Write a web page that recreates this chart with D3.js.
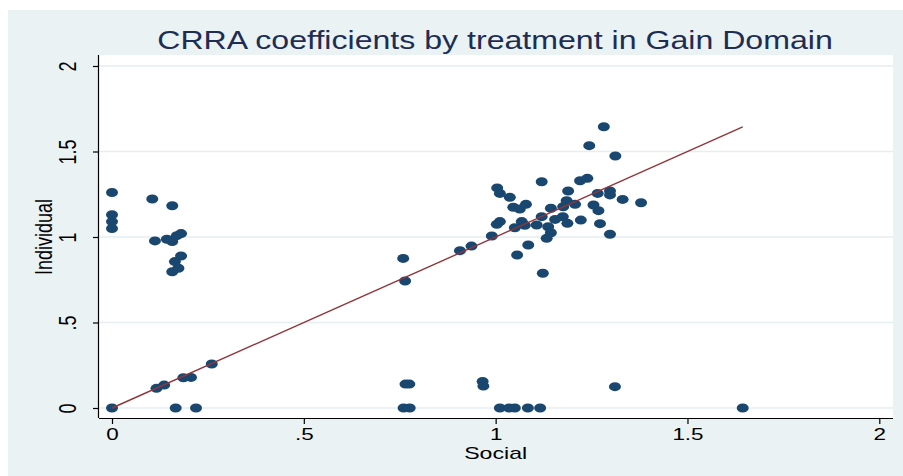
<!DOCTYPE html>
<html>
<head>
<meta charset="utf-8">
<script src="https://cdn.jsdelivr.net/npm/d3@7"></script>
<style>
  html, body { margin: 0; padding: 0; background: #ffffff; }
  svg { display: block; }
  text { font-family: "Liberation Sans", Arial, Helvetica, sans-serif; }
</style>
</head>
<body>
<svg id="chart" width="903" height="476"></svg>
<script>
// CRRA coefficients: social treatment (x) vs individual treatment (y)
const social = [
  0, 0, 0, 0, 0,
  0.105, 0.157, 0.112, 0.143, 0.157, 0.169, 0.18, 0.18, 0.164, 0.173, 0.157,
  0.116, 0.136, 0.186, 0.206, 0.26, 0.166, 0.219,
  0.759, 0.764, 0.765, 0.775, 0.76, 0.776, 0.966, 0.968,
  1.011, 1.035, 1.05, 1.084, 1.116, 1.311, 1.644,
  0.907, 0.937, 0.99, 1.004, 1.011, 1.037, 1.12, 1.011, 1.003,
  1.046, 1.063, 1.079, 1.068, 1.05, 1.076, 1.107, 1.12, 1.144,
  1.137, 1.144, 1.133, 1.155, 1.085, 1.056, 1.123,
  1.282, 1.244, 1.312, 1.22, 1.239, 1.189, 1.266, 1.298, 1.298, 1.331, 1.379,
  1.185, 1.207, 1.176, 1.255, 1.268, 1.175, 1.187, 1.222, 1.272, 1.298
];
const individual = [
  1.26, 1.13, 1.09, 1.05, 0,
  1.222, 1.183, 0.977, 0.987, 0.973, 1.008, 1.02, 0.889, 0.856, 0.817, 0.797,
  0.115, 0.134, 0.177, 0.179, 0.257, 0, 0,
  0.875, 0.743, 0.14, 0.14, 0, 0, 0.155, 0.128,
  0, 0, 0, 0, 0, 0.125, 0,
  0.92, 0.947, 1.006, 1.287, 1.255, 1.232, 1.323, 1.09, 1.074,
  1.174, 1.164, 1.191, 1.09, 1.054, 1.068, 1.07, 1.119, 1.168,
  1.06, 1.025, 0.992, 1.103, 0.953, 0.895, 0.788,
  1.645, 1.534, 1.474, 1.329, 1.343, 1.269, 1.255, 1.269, 1.246, 1.22, 1.2,
  1.212, 1.191, 1.177, 1.187, 1.154, 1.119, 1.08, 1.099, 1.078, 1.016
];
const xTicks = [0, 0.5, 1, 1.5, 2];
const yTicks = [0, 0.5, 1, 1.5, 2];
const tickLabel = v => v === 0 ? "0" : (v < 1 ? String(v).replace(/^0/, "") : String(v));

const titleText = "CRRA coefficients by treatment in Gain Domain";
const xTitle = "Social";
const yTitle = "Individual";

const svg = d3.select("#chart");
const W = 903, H = 476;
const plot = { left: 99, right: 893, top: 55, bottom: 418 };
const stretch = 1.36; // horizontal glyph widening used for all lettering

const x = d3.scaleLinear().domain([0, 2]).range([112, 879.3]);
const y = d3.scaleLinear().domain([0, 2]).range([408, 66]);

// graph region
svg.append("rect").attr("x", 8).attr("y", 10).attr("width", W - 8).attr("height", H - 10)
  .attr("fill", "#eaf2f3");
// plot region
svg.append("rect").attr("x", plot.left).attr("y", plot.top)
  .attr("width", plot.right - plot.left).attr("height", plot.bottom - plot.top)
  .attr("fill", "#ffffff");

// horizontal grid lines
svg.append("g").selectAll("line").data(yTicks).join("line")
  .attr("x1", plot.left).attr("x2", plot.right)
  .attr("y1", d => y(d)).attr("y2", d => y(d))
  .attr("stroke", "#e6eef0").attr("stroke-width", 1.5);

// axes
const xAxis = d3.axisBottom(x).tickValues(xTicks).tickFormat(tickLabel).tickSize(6).tickPadding(4);
const gx = svg.append("g").attr("transform", `translate(0,${plot.bottom})`).call(xAxis);
gx.select(".domain").attr("d", `M${plot.left},0.5H${plot.right}`).attr("stroke", "#000").attr("stroke-width", 1.2);
gx.selectAll(".tick line").attr("stroke", "#000").attr("stroke-width", 1.2);
gx.selectAll(".tick text").attr("fill", "#000").attr("font-size", 16.5)
  .attr("y", null).attr("dy", null)
  .attr("transform", `translate(0,22) scale(${stretch},1)`);

const yAxis = d3.axisLeft(y).tickValues(yTicks).tickFormat(tickLabel).tickSize(6);
const gy = svg.append("g").attr("transform", `translate(${plot.left},0)`).call(yAxis);
gy.select(".domain").attr("d", `M-0.5,${plot.top}V${plot.bottom}`).attr("stroke", "#000").attr("stroke-width", 1.2);
gy.selectAll(".tick line").attr("stroke", "#000").attr("stroke-width", 1.2);
gy.selectAll(".tick text").attr("fill", "#000").attr("font-size", 18)
  .attr("x", null).attr("dy", null).attr("text-anchor", "middle")
  .attr("transform", `translate(-23,0) scale(${stretch},1) rotate(-90)`);
gy.attr("font-family", null); gx.attr("font-family", null);

// scatter markers
const pts = social.map((s, i) => ({ s, v: individual[i] }));
svg.append("g").selectAll("ellipse").data(pts).join("ellipse")
  .attr("cx", d => x(d.s)).attr("cy", d => y(d.v))
  .attr("rx", 6).attr("ry", 4.5)
  .attr("fill", "#1a476f");

// 45-degree reference line up to the largest social coefficient
const lineMax = d3.max(social);
svg.append("line")
  .attr("x1", x(0)).attr("y1", y(0)).attr("x2", x(lineMax)).attr("y2", y(lineMax))
  .attr("stroke", "#90353b").attr("stroke-width", 1.4);

// axis titles
svg.append("text").text(xTitle).attr("font-size", 17).attr("fill", "#000")
  .attr("text-anchor", "middle")
  .attr("transform", `translate(${(x(0) + x(2)) / 2},459) scale(${stretch},1)`);
svg.append("text").text(yTitle).attr("font-size", 18).attr("fill", "#000")
  .attr("text-anchor", "middle")
  .attr("transform", `translate(52,${y(1)}) scale(${stretch},1) rotate(-90)`);

// chart title, widened to span the heading area
const t = svg.append("text").text(titleText).attr("font-size", 26).attr("fill", "#1e2d53")
  .attr("text-anchor", "middle");
const tl = t.node().getComputedTextLength();
t.attr("transform", `translate(495,49) scale(${676 / tl},1)`);
</script>
</body>
</html>
